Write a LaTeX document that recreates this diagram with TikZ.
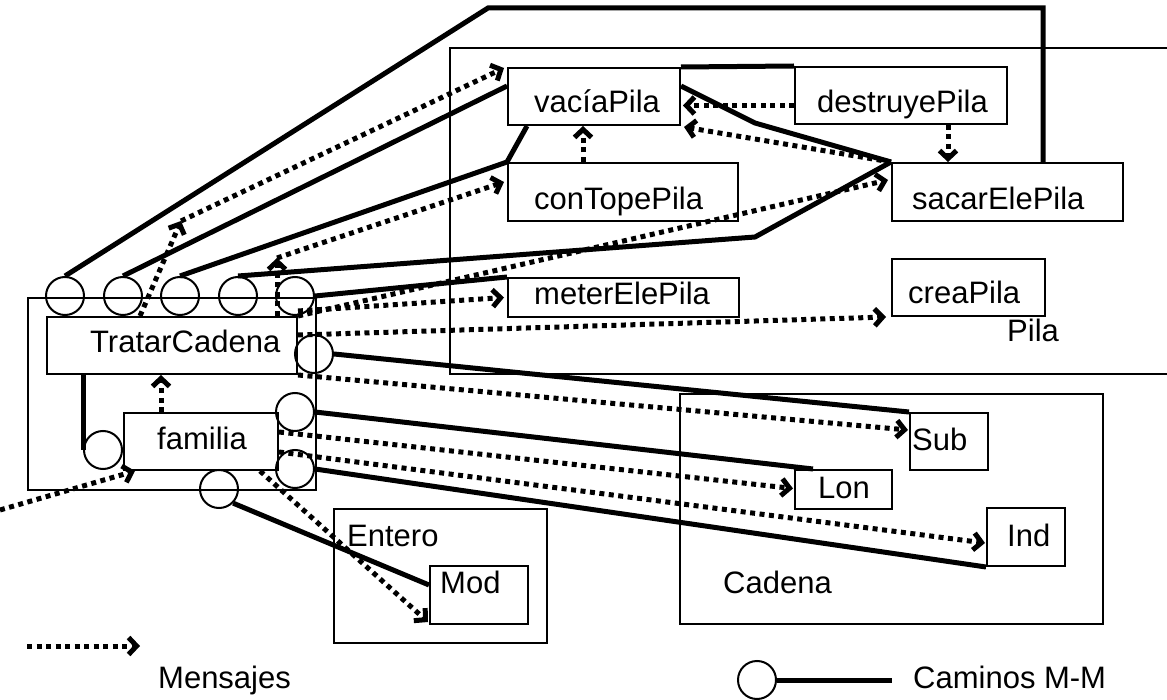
\documentclass[tikz,border=0pt]{standalone}
\usepackage{fontspec}
\setmainfont{Liberation Sans}
\usetikzlibrary{arrows.meta,calc}
\begin{document}
\begin{tikzpicture}[x=1pt,y=-1pt,
  box/.style={draw, line width=2pt, inner sep=0pt, anchor=north west},
  port/.style={draw, circle, line width=2pt, minimum size=38pt, inner sep=0pt},
  mm/.style={line width=5pt},
  msgline/.style={line width=5pt, dash pattern=on 5pt off 4.5pt},
  msg/.style={msgline, -{Straight Barb[length=8pt,width=17pt]}},
  lbl/.style={anchor=base west, inner sep=0pt, font=\fontsize{31}{37}\selectfont}]
\useasboundingbox (0,0) rectangle (1167,700);
% module boxes
\node[box, minimum width=288pt, minimum height=192pt] (mtc) at (27,297) {};
\node[box, minimum width=723pt, minimum height=326pt] (pila) at (449,47) {};
\node[box, minimum width=423pt, minimum height=230pt] (cadena) at (679,393) {};
\node[box, minimum width=213pt, minimum height=134pt] (entero) at (333,508) {};
% operation boxes
\node[box, minimum width=250pt, minimum height=57pt] (tc) at (46,316) {};
\node[box, minimum width=154pt, minimum height=57pt] (fam) at (123,412) {};
\node[box, minimum width=172pt, minimum height=57pt] (vacia) at (507,67) {};
\node[box, minimum width=230pt, minimum height=58pt] (contope) at (507,162) {};
\node[box, minimum width=212pt, minimum height=57pt] (destruye) at (794,66) {};
\node[box, minimum width=231pt, minimum height=58pt] (sacar) at (891,162) {};
\node[box, minimum width=231pt, minimum height=39pt] (meter) at (507,277) {};
\node[box, minimum width=153pt, minimum height=57pt] (crea) at (891,258) {};
\node[box, minimum width=78pt, minimum height=57pt] (sub) at (909,412) {};
\node[box, minimum width=97pt, minimum height=39pt] (lon) at (794,469) {};
\node[box, minimum width=78pt, minimum height=58pt] (ind) at (986,507) {};
\node[box, minimum width=98pt, minimum height=58pt] (mod) at (429,565) {};
% labels
\node[lbl] (tct) at (90,353) {TratarCadena};
\node[lbl] (famt) at (157,449) {familia};
\node[lbl] (vaciat) at (534,113) {vacíaPila};
\node[lbl] (contopet) at (534,210) {conTopePila};
\node[lbl] (destruyet) at (817,113) {destruyePila};
\node[lbl] (sacart) at (912,210) {sacarElePila};
\node[lbl] (metert) at (534,305) {meterElePila};
\node[lbl] (creat) at (908,304) {creaPila};
\node[lbl] (pilat) at (1007,342) {Pila};
\node[lbl] (subt) at (912,450) {Sub};
\node[lbl] (lont) at (818,498) {Lon};
\node[lbl] (indt) at (1007,546) {Ind};
\node[lbl] (cadenat) at (723,593) {Cadena};
\node[lbl] (enterot) at (347,546) {Entero};
\node[lbl] (modt) at (440,593) {Mod};
% ports
\node[port] (c1) at (65,296) {};
\node[port] (c2) at (123,296) {};
\node[port] (c3) at (180,296) {};
\node[port] (c4) at (238,296) {};
\node[port] (c5) at (295,296) {};
\node[port] (c6) at (314,354) {};
\node[port] (c7) at (103,450) {};
\node[port] (c8) at (219,489) {};
\node[port] (c9) at (295,412) {};
\node[port] (c10) at (295,469) {};
% bend points
\coordinate (b1) at (488,8);
\coordinate (b2) at (1043,8);
\coordinate (b3) at (755,237);
\coordinate (b4) at (755,123);
\coordinate (b5) at (181,221);
\coordinate (b6) at (277,258);
\coordinate (src) at (0,510);
% M-M paths
\draw[mm] (c1.north) -- (b1) -- (b2) -- (b2 |- sacar.north);
\draw[mm] (c2.north) -- ($(vacia.north west)+(0,19)$);
\draw[mm] (c3.north) -- (contope.north west) -- ($(vacia.south west)+(20,0)$);
\draw[mm] (c4.north) -- (b3) -- (sacar.north west);
\draw[mm] (c5.east) -- (meter.north west);
\draw[mm] (c6.east) -- (sub.north west);
\draw[mm] (c9.east) -- ($(lon.north west)+(19,0)$);
\draw[mm] (c10.east) -- (ind.south west);
\draw[mm] (c8.south east) -- ($(mod.north west)+(0,20)$);
\draw[mm] (c7.west |- tc.south) -- (c7.west);
\draw[mm] (vacia.north east) -- (destruye.north west);
\draw[mm] ($(vacia.north east)+(0,19)$) -- (b4) -- (sacar.north west);
% messages
\draw[msg] ($(tc.north west)+(94,0)$) -- (b5);
\draw[msg] (b5) -- ($(vacia.north west)+(-3,1)$);
\draw[msg] ($(tc.north west)+(231,0)$) -- (b6);
\draw[msg] (b6) -- ($(contope.north west)+(-3,20)$);
\draw[msg] (tc.north east) -- ($(sacar.north west)+(-3,18)$);
\draw[msg] ($(tc.north east)+(0,-5)$) -- ($(meter.west)+(-3,0)$);
\draw[msg] ($(tc.north east)+(0,19)$) -- ($(crea.south west)+(-5,0)$);
\draw[msg] (tc.south east) -- ($(sub.north west)+(-1,18)$);
\draw[msg] ($(fam.north east)+(0,20)$) -- ($(lon.west)+(-1,-1)$);
\draw[msg] ($(fam.north east)+(0,40)$) -- ($(ind.north west)+(-1,36)$);
\draw[msg] ($(fam.south east)+(-19,0)$) -- ($(mod.south west)+(-1,-3)$);
\draw[msg] (src) -- ($(fam.south west)+(12,0)$);
\draw[msg] ($(destruye.west)+(0,10)$) -- ($(vacia.east)+(2,9)$);
\draw[msg] (sacar.north west) -- ($(vacia.south east)+(3,1)$);
\draw[msg] ($(destruye.south west)+(154,0)$) -- ($(sacar.north west)+(57,0)$);
\draw[msg] ($(contope.north west)+(76,0)$) -- ($(vacia.south west)+(76,0)$);
\draw[msg] ($(fam.north west)+(38,0)$) -- ($(tc.south west)+(115,0)$);
% legend
\coordinate (lg1) at (27,646);
\coordinate (lg2) at (140,646);
\draw[msg] (lg1) -- (lg2);
\node[lbl] (mens) at (158,688) {Mensajes};
\node[port] (lgc) at (757,680) {};
\coordinate (lg3) at (892,680);
\draw[mm] (lgc.east) -- (lg3);
\node[lbl] (cam) at (913,688) {Caminos M-M};
\end{tikzpicture}
\end{document}
